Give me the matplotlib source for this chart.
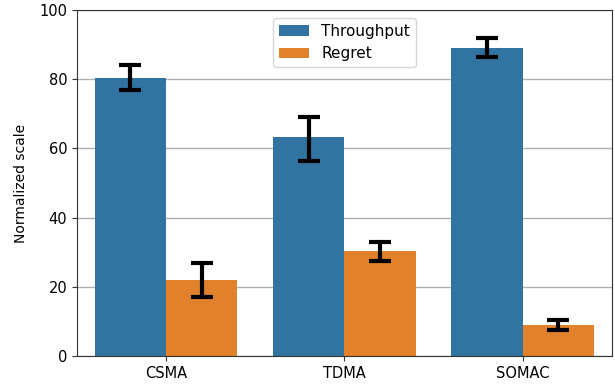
import numpy as np
import matplotlib
matplotlib.use("Agg")
import matplotlib.pyplot as plt

protocols = ["CSMA", "TDMA", "SOMAC"]
series_names = ["Throughput", "Regret"]
throughput = [80.3, 63.3, 89.0]
throughput_lo = [76.8, 56.4, 86.4]
throughput_hi = [84.1, 69.0, 91.8]
regret = [21.9, 30.3, 9.0]
regret_lo = [17.0, 27.4, 7.5]
regret_hi = [27.0, 33.0, 10.4]

colors = ["#3274a1", "#e1812c"]

fig, ax = plt.subplots(figsize=(6.15, 3.84), dpi=100)
fig.subplots_adjust(left=0.125, right=0.995, top=0.974, bottom=0.073)

x = np.arange(len(protocols))
width = 0.4
groups = [
    (throughput, throughput_lo, throughput_hi),
    (regret, regret_lo, regret_hi),
]
for i, (vals, lo, hi) in enumerate(groups):
    pos = x - width / 2 + i * width
    vals = np.array(vals)
    ax.bar(pos, vals, width=width, color=colors[i], label=series_names[i], zorder=2)
    yerr = [vals - np.array(lo), np.array(hi) - vals]
    ax.errorbar(pos, vals, yerr=yerr, fmt="none", ecolor="black",
                elinewidth=3, capsize=8, capthick=3, zorder=3)

ax.set_xlim(-0.5, 2.5)
ax.set_ylim(0, 100)
ax.set_xticks(x)
ax.set_xticklabels(protocols)
ax.set_ylabel("Normalized scale", labelpad=8)
ax.yaxis.grid(True, color="#b0b0b0", linewidth=1, zorder=0)
ax.set_axisbelow(True)
for s in ax.spines.values():
    s.set_color("#333333")
ax.tick_params(colors="#333333", labelcolor="black", labelsize=10.5)
ax.legend(loc="upper center", fontsize=11, framealpha=0.8)

fig.savefig("out.png")
